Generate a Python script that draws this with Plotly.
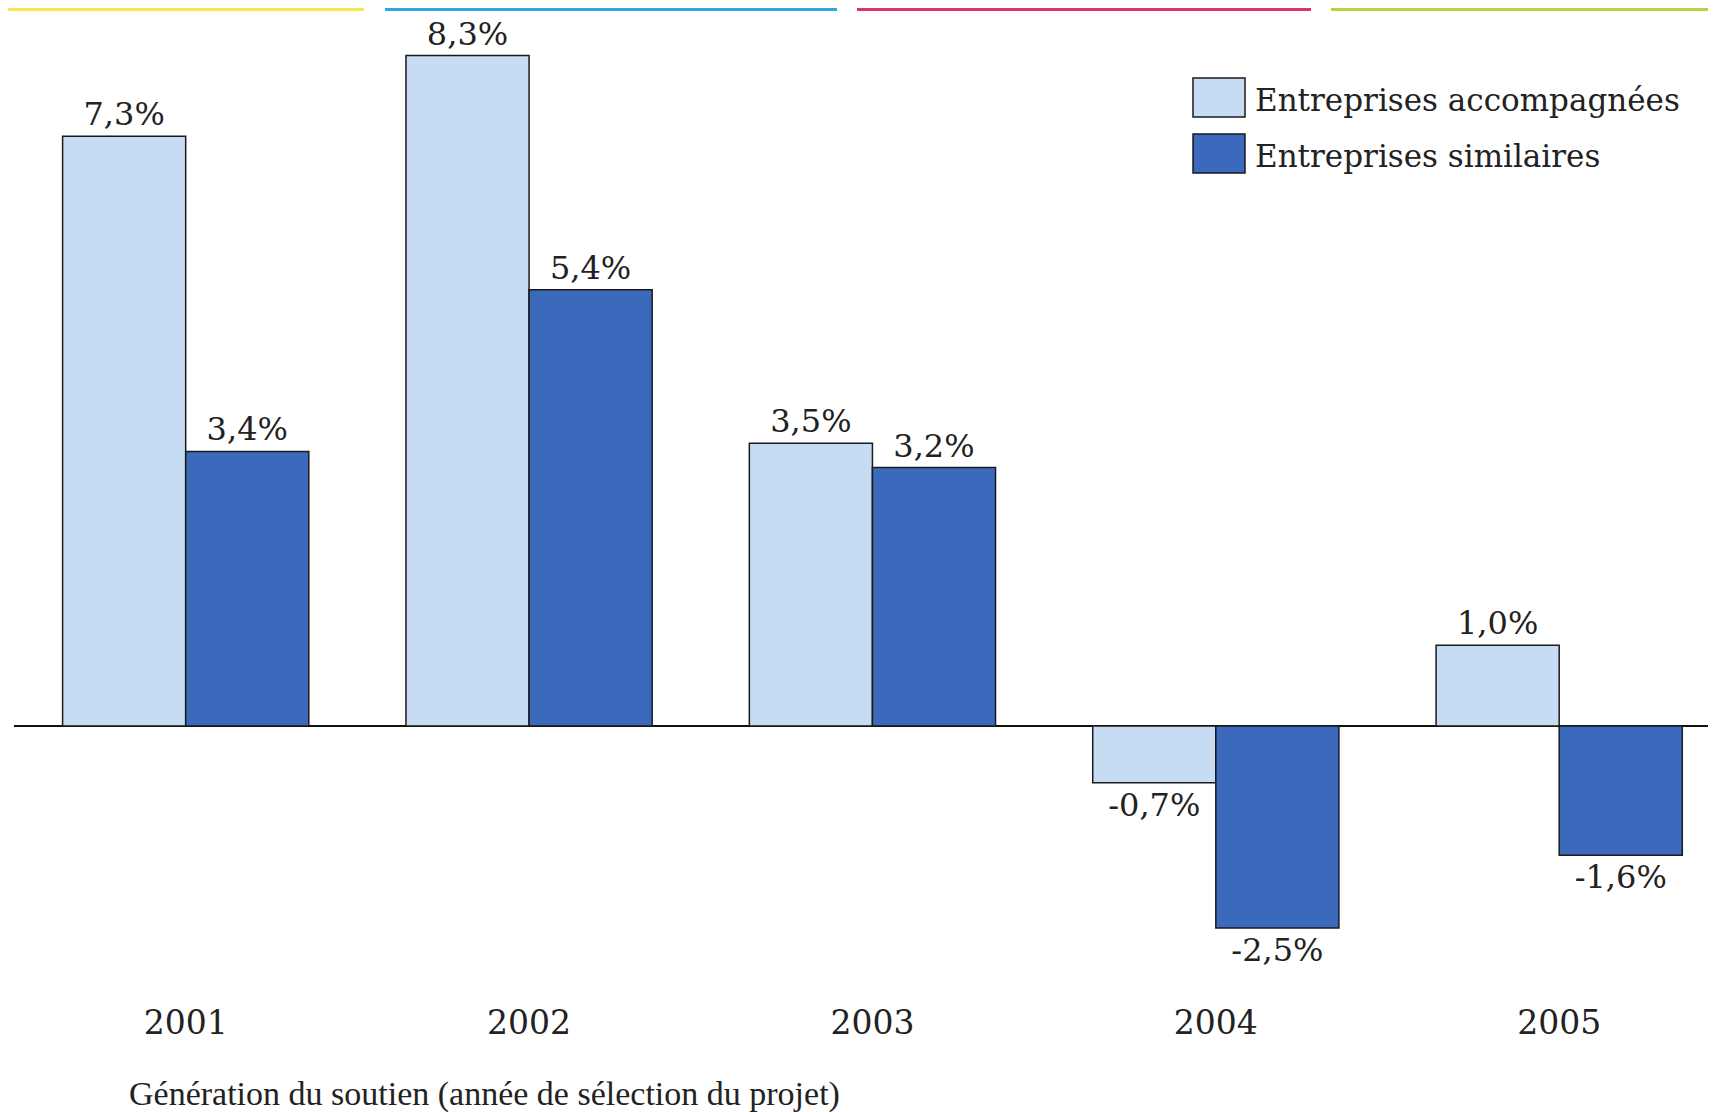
import plotly.graph_objects as go

years = ["2001", "2002", "2003", "2004", "2005"]
accompagnees = [7.3, 8.3, 3.5, -0.7, 1.0]
similaires = [3.4, 5.4, 3.2, -2.5, -1.6]
series_names = ["Entreprises accompagnées", "Entreprises similaires"]
x_title = "Génération du soutien (année de sélection du projet)"

LIGHT = "#C5DCF2"
DARK = "#3B6ABD"
FONT = "DejaVu Serif"

# page has an 8px body margin, so shift margins to land on the reference
W, H = 1716, 1112
ML, MT, MB = 6, 12, 158
PLOT_L, PLOT_T = 14, 20
PLOT_W, PLOT_H = W - ML, H - MT - MB


def px2x(px):
    return (px - PLOT_L) / PLOT_W


def px2y(py):
    return 1 - (py - PLOT_T) / PLOT_H


def fmt(values):
    return [f"{v:.1f}%".replace(".", ",") for v in values]


fig = go.Figure()
for name, vals, color in [(series_names[0], accompagnees, LIGHT), (series_names[1], similaires, DARK)]:
    fig.add_trace(
        go.Bar(
            x=years,
            y=vals,
            name=name,
            marker=dict(color=color, line=dict(color="#1a1a1a", width=1.5)),
            text=fmt(vals),
            textposition="outside",
            textfont=dict(family=FONT, size=32, color="#222222"),
            cliponaxis=False,
            showlegend=False,
        )
    )

# hand-made legend, the plotly symbols are too small here
shapes = []
annotations = []
for i, (name, color) in enumerate(zip(series_names, [LIGHT, DARK])):
    top = 78 + i * 56
    bot = top + 39
    shapes.append(dict(type="rect", xref="paper", yref="paper",
                       x0=px2x(1193), x1=px2x(1245), y0=px2y(bot), y1=px2y(top),
                       fillcolor=color, line=dict(color="#1a1a1a", width=1.5),
                       layer="above"))
    annotations.append(dict(xref="paper", yref="paper", x=px2x(1253),
                            y=px2y((top + bot) / 2 + 2), text=name, showarrow=False,
                            xanchor="left", yanchor="middle",
                            font=dict(family=FONT, size=31, color="#222222")))

# coloured strips along the top edge
strips = [(0, 364, "#F4E84C"), (385, 837, "#2EA7E0"), (857, 1311, "#E0336B"), (1331, 1716, "#BCD13D")]
for a, b, c in strips:
    shapes.append(dict(type="rect", xref="paper", yref="paper",
                       x0=px2x(a), x1=px2x(b), y0=px2y(11), y1=px2y(8),
                       fillcolor=c, line=dict(width=0), layer="above"))

annotations.append(dict(xref="paper", yref="paper", x=px2x(127), y=px2y(1094),
                        text=x_title, showarrow=False, xanchor="left", yanchor="middle",
                        font=dict(family="Liberation Serif", size=34, color="#222222")))

fig.update_layout(
    width=W,
    height=H,
    margin=dict(l=ML, r=0, t=MT, b=MB),
    paper_bgcolor="white",
    plot_bgcolor="white",
    barmode="group",
    bargap=0.283,
    bargroupgap=0,
    shapes=shapes,
    annotations=annotations,
    xaxis=dict(
        type="category",
        range=[-0.5, 4.48],
        showgrid=False,
        showline=False,
        ticks="",
        ticklabelstandoff=38,
        tickfont=dict(family=FONT, size=33, color="#222222"),
    ),
    yaxis=dict(
        range=[-2.92, 8.74],
        showgrid=False,
        showticklabels=False,
        zeroline=True,
        zerolinecolor="#111111",
        zerolinewidth=2,
        showline=False,
        ticks="",
    ),
)

fig.write_html("out.html")
